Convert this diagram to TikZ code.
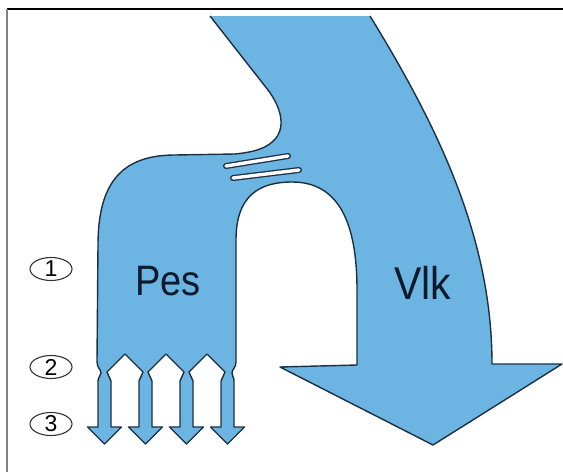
\documentclass[tikz,border=0pt]{standalone}
\usepackage{fontspec}
\setmainfont{Liberation Sans}
\usetikzlibrary{shapes.geometric}
\definecolor{flowfill}{RGB}{108,180,225}
\definecolor{flowline}{RGB}{28,48,68}
\definecolor{labeltext}{RGB}{12,26,44}
\definecolor{framegrey}{RGB}{130,130,130}
\tikzset{
  flowbody/.style={fill=flowfill},
  flowedge/.style={draw=flowline, line width=1.4pt, line join=round},
  numbadge/.style={ellipse, draw=black!80, line width=1.1pt, minimum width=42pt,
    minimum height=23pt, inner sep=0pt, font=\fontsize{23}{23}\selectfont},
  biglabel/.style={text=labeltext, inner sep=0pt, yscale=1.12},
}
\begin{document}
\begin{tikzpicture}[x=1pt, y=-1pt]
\useasboundingbox (0,0) rectangle (563,472);
\fill[white] (0,0) rectangle (563,472);

% frame
\draw[black, line width=1.2pt] (7,9) -- (563,9);
\draw[framegrey, line width=1.8pt] (7,9) -- (7,472);

% outline of the merged flow (open at the top edge)
\path[save path=\flowpath]
  (210,16) -- (268,90)
  .. controls (280,106) and (286,125) .. (276,138)
  .. controls (268,148) and (255,152) .. (235,154)
  -- (175,155)
  .. controls (120,155) and (98,185) .. (98,245)
  -- (97,362)
  .. controls (97,368) and (101,369) .. (101,373)
  .. controls (101,376) and (98,377) .. (98,381)
  -- (98,427) -- (87.5,427) -- (104.5,444) -- (121.5,427) -- (111,427) -- (111,381)
  -- (107,372) -- (125,354) -- (143,372) -- (139,381)
  -- (139,427) -- (128.5,427) -- (145.5,444) -- (162.5,427) -- (152,427) -- (152,381)
  -- (148,372) -- (166,354) -- (184,372) -- (180,381)
  -- (180,427) -- (169.5,427) -- (186.5,444) -- (203.5,427) -- (193,427) -- (193,381)
  -- (189,372) -- (207,354) -- (225,372) -- (221,381)
  -- (221,427) -- (210.5,427) -- (227.5,444) -- (244.5,427) -- (234,427) -- (234,381)
  .. controls (234,377) and (232,376) .. (232,373)
  .. controls (232,369) and (236,368) .. (236,362)
  -- (236,240)
  .. controls (236,195) and (260,182) .. (292,182)
  .. controls (340,182) and (357,225) .. (357,290)
  -- (357,365) -- (280,367) -- (433,445) -- (562,364) -- (492,364)
  .. controls (492,240) and (440,130) .. (370,16);
\fill[flowbody, use path=\flowpath];
\draw[flowedge, use path=\flowpath];

% constriction marks in the neck
\foreach \ax/\ay/\bx/\by in {226/166/288/156, 233/178/299/170} {
  \draw[flowline, line width=6pt, line cap=round] (\ax,\ay) -- (\bx,\by);
  \draw[white, line width=3.4pt, line cap=round] (\ax,\ay) -- (\bx,\by);
}

% labels
\node[biglabel, font=\fontsize{38}{38}\selectfont] (pes) at (168,281) {Pes};
\node[biglabel, font=\fontsize{41}{41}\selectfont] (vlk) at (423,283) {Vlk};

% numbered stages
\node[numbadge] (n1) at (51,269) {1};
\node[numbadge] (n2) at (51,367) {2};
\node[numbadge] (n3) at (51,424) {3};
\end{tikzpicture}
\end{document}
